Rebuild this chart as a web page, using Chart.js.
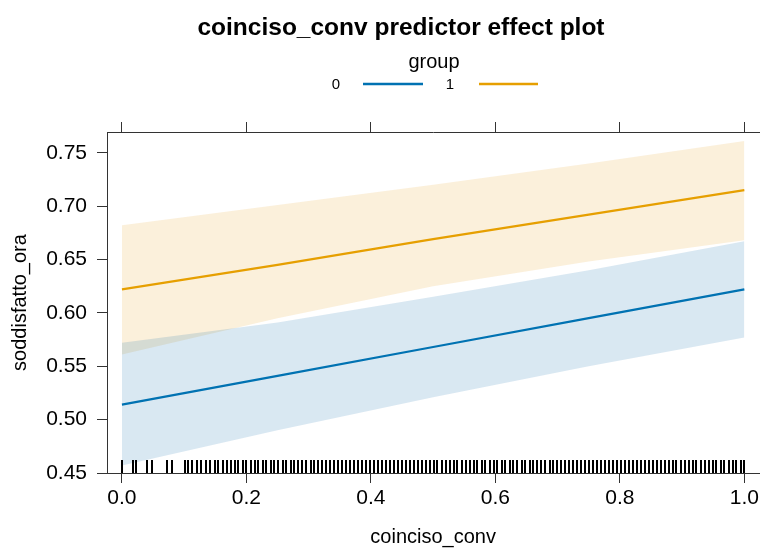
<!DOCTYPE html>
<html>
<head>
<meta charset="utf-8">
<script src="https://cdn.jsdelivr.net/npm/chart.js@4/dist/chart.umd.min.js"></script>
<style>
  html, body { margin: 0; padding: 0; background: #ffffff; }
  #wrap { width: 762px; height: 548px; }
</style>
</head>
<body>
<div id="wrap"><canvas id="c" width="762" height="548"></canvas></div>
<script>
// ---- Data ----
const titleText = "coinciso_conv predictor effect plot";
const legendTitle = "group";
const groups = ["0", "1"];
const xLabel = "coinciso_conv";
const yLabel = "soddisfatto_ora";

const xGrid = [0, 0.25, 0.5, 0.75, 1];
// group 0
const fit0   = [0.514, 0.541, 0.568, 0.595, 0.622];
const lower0 = [0.457, 0.490, 0.521, 0.550, 0.577];
const upper0 = [0.572, 0.591, 0.615, 0.640, 0.667];
// group 1
const fit1   = [0.622, 0.645, 0.669, 0.692, 0.715];
const lower1 = [0.561, 0.595, 0.625, 0.648, 0.668];
const upper1 = [0.682, 0.701, 0.720, 0.740, 0.761];

const xTicks = [0, 0.2, 0.4, 0.6, 0.8, 1.0];
const yTicks = [0.45, 0.50, 0.55, 0.60, 0.65, 0.70, 0.75];

// rug of observed coinciso_conv values
const rugValues = [0, 0.018, 0.022, 0.041, 0.048, 0.073, 0.080, 0.101, 0.106, 0.113, 0.120, 0.127, 0.135, 0.141,
  0.149, 0.155, 0.162, 0.168, 0.175, 0.181, 0.187, 0.194, 0.200, 0.207, 0.213, 0.219, 0.226, 0.232, 0.239, 0.245,
  0.251, 0.258, 0.264, 0.271, 0.277, 0.283, 0.290, 0.296, 0.303, 0.309, 0.315, 0.322, 0.328, 0.335, 0.341, 0.347,
  0.354, 0.360, 0.367, 0.373, 0.379, 0.386, 0.392, 0.399, 0.405, 0.411, 0.418, 0.424, 0.431, 0.437, 0.443, 0.450,
  0.456, 0.463, 0.469, 0.475, 0.482, 0.488, 0.495, 0.501, 0.507, 0.514, 0.520, 0.527, 0.533, 0.539, 0.546, 0.552,
  0.559, 0.565, 0.571, 0.578, 0.584, 0.591, 0.597, 0.603, 0.610, 0.616, 0.623, 0.629, 0.635, 0.642, 0.648, 0.655,
  0.661, 0.667, 0.674, 0.680, 0.687, 0.693, 0.699, 0.706, 0.712, 0.719, 0.725, 0.731, 0.738, 0.744, 0.751, 0.757,
  0.763, 0.770, 0.776, 0.783, 0.789, 0.795, 0.802, 0.808, 0.815, 0.821, 0.827, 0.834, 0.840, 0.847, 0.853, 0.859,
  0.866, 0.872, 0.879, 0.885, 0.891, 0.898, 0.904, 0.911, 0.917, 0.923, 0.930, 0.936, 0.943, 0.949, 0.955, 0.962,
  0.968, 0.975, 0.981, 0.987, 0.994, 1.000];

// ---- Styles ----
const BLUE = "#0072B2";
const ORANGE = "#E69F00";
const BLUE_FILL = "rgba(0,100,170,0.15)";
const ORANGE_FILL = "rgba(230,150,0,0.14)";
const AXIS = "#333333";
const FONT = '"Liberation Sans", Arial, Helvetica, sans-serif';

function pts(ys) { return xGrid.map((x, i) => ({ x: x, y: ys[i] })); }

const rugPlugin = {
  id: 'rug',
  afterDatasetsDraw(chart) {
    const ctx = chart.ctx, xs = chart.scales.x, area = chart.chartArea;
    ctx.save();
    ctx.strokeStyle = "#000000";
    ctx.lineWidth = 2;
    ctx.beginPath();
    rugValues.forEach(v => {
      const px = Math.round(xs.getPixelForValue(v));
      ctx.moveTo(px, area.bottom);
      ctx.lineTo(px, area.bottom - 13);
    });
    ctx.stroke();
    ctx.restore();
  }
};

const headerPlugin = {
  id: 'header',
  afterDraw(chart) {
    const ctx = chart.ctx;
    ctx.save();
    ctx.fillStyle = "#000000";
    ctx.textAlign = "center";
    ctx.textBaseline = "middle";
    ctx.font = 'bold 24.5px ' + FONT;
    ctx.fillText(titleText, 401, 28);
    ctx.font = '20px ' + FONT;
    ctx.fillText(legendTitle, 434, 62);
    ctx.font = '15px ' + FONT;
    ctx.fillText(groups[0], 336, 85);
    ctx.fillText(groups[1], 450, 85);
    ctx.lineWidth = 2.5;
    ctx.strokeStyle = BLUE;
    ctx.beginPath(); ctx.moveTo(363, 84); ctx.lineTo(423, 84); ctx.stroke();
    ctx.strokeStyle = ORANGE;
    ctx.beginPath(); ctx.moveTo(479, 84); ctx.lineTo(538, 84); ctx.stroke();
    ctx.restore();
  }
};

const bgPlugin = {
  id: 'bg',
  beforeDraw(chart) {
    const ctx = chart.ctx;
    ctx.save();
    ctx.fillStyle = "#ffffff";
    ctx.fillRect(0, 0, chart.width, chart.height);
    ctx.restore();
  }
};

const axisGrid = { drawOnChartArea: false, drawTicks: true, tickLength: 10, color: AXIS, lineWidth: 1 };
const axisBorder = { display: true, color: AXIS, width: 1 };

new Chart(document.getElementById('c'), {
  type: 'line',
  data: {
    datasets: [
      { label: '1', data: pts(fit1), borderColor: ORANGE, borderWidth: 2.2, pointRadius: 0, fill: false },
      { label: '0', data: pts(fit0), borderColor: BLUE, borderWidth: 2.2, pointRadius: 0, fill: false },
      { label: 'u0', data: pts(upper0), borderWidth: 0, borderColor: 'rgba(0,0,0,0)', pointRadius: 0, backgroundColor: BLUE_FILL, fill: 3 },
      { label: 'l0', data: pts(lower0), borderWidth: 0, borderColor: 'rgba(0,0,0,0)', pointRadius: 0, fill: false },
      { label: 'u1', data: pts(upper1), borderWidth: 0, borderColor: 'rgba(0,0,0,0)', pointRadius: 0, backgroundColor: ORANGE_FILL, fill: 5 },
      { label: 'l1', data: pts(lower1), borderWidth: 0, borderColor: 'rgba(0,0,0,0)', pointRadius: 0, fill: false }
    ]
  },
  options: {
    responsive: false,
    devicePixelRatio: 1,
    animation: false,
    layout: { padding: 0 },
    plugins: { legend: { display: false }, title: { display: false }, tooltip: { enabled: false } },
    scales: {
      x: {
        type: 'linear', position: 'bottom', min: -0.024, max: 1.024,
        afterBuildTicks: s => { s.ticks = xTicks.map(v => ({ value: v })); },
        afterFit: s => { s.height = 75; },
        ticks: { color: '#000', font: { family: FONT, size: 21 }, padding: 3, maxRotation: 0, autoSkip: false,
                 callback: v => Number(v).toFixed(1) },
        grid: axisGrid, border: axisBorder,
        title: { display: true, text: xLabel, color: '#000', font: { family: FONT, size: 20, lineHeight: 1.1 }, padding: { top: 0, bottom: 0 } }
      },
      x2: {
        type: 'linear', position: 'top', min: -0.024, max: 1.024,
        afterBuildTicks: s => { s.ticks = xTicks.map(v => ({ value: v })); },
        afterFit: s => { s.height = 132; },
        ticks: { display: false },
        grid: axisGrid, border: axisBorder
      },
      y: {
        type: 'linear', position: 'left', min: 0.45, max: 0.7694,
        afterBuildTicks: s => { s.ticks = yTicks.map(v => ({ value: v })); },
        afterFit: s => { s.width = 107; },
        ticks: { color: '#000', font: { family: FONT, size: 21 }, padding: 10, autoSkip: false,
                 callback: v => Number(v).toFixed(2) },
        grid: axisGrid, border: axisBorder,
        title: { display: true, text: yLabel, color: '#000', font: { family: FONT, size: 20, lineHeight: 1.2 }, padding: { top: 8, bottom: 0 } }
      }
    }
  },
  plugins: [bgPlugin, rugPlugin, headerPlugin]
});
</script>
</body>
</html>
